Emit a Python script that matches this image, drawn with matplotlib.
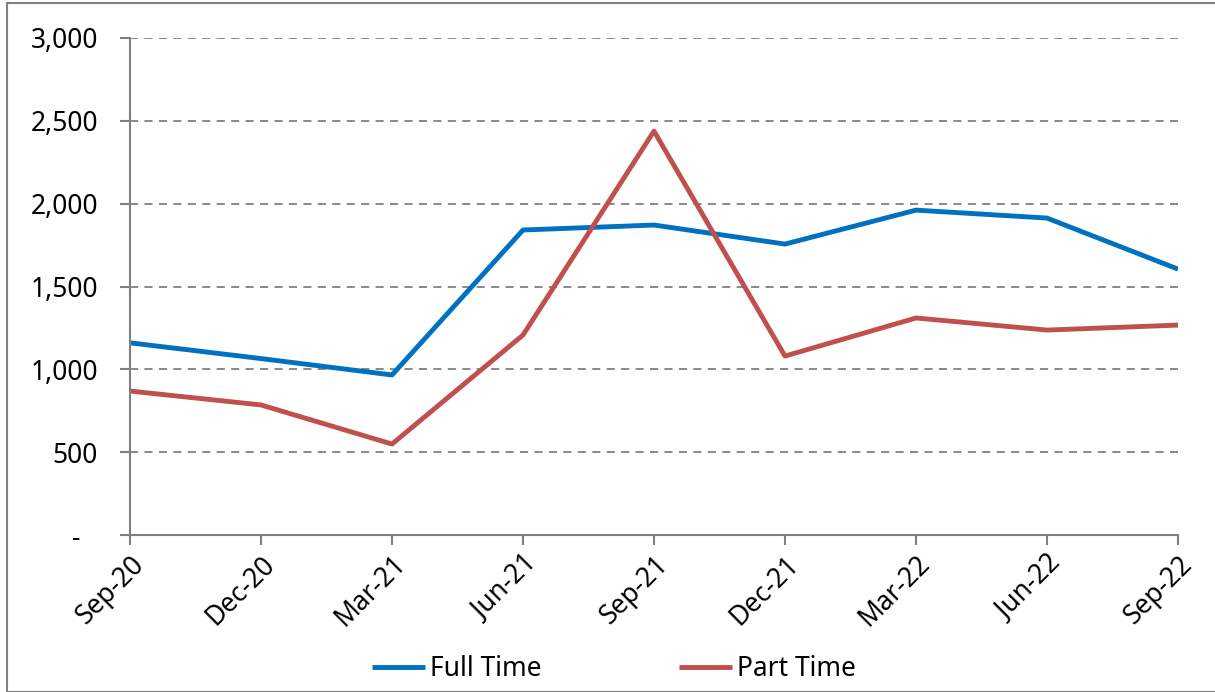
import matplotlib.pyplot as plt
import matplotlib.transforms as mtransforms
from matplotlib.patches import Rectangle

# Datos
periodos = ["Sep-20", "Dec-20", "Mar-21", "Jun-21", "Sep-21",
            "Dec-21", "Mar-22", "Jun-22", "Sep-22"]
full_time = [1160, 1065, 966, 1841, 1871, 1756, 1961, 1913, 1605]
part_time = [869, 785, 549, 1207, 2438, 1080, 1310, 1237, 1267]

y_ticks = [0, 500, 1000, 1500, 2000, 2500, 3000]
y_labels = ["-", "500", "1,000", "1,500", "2,000", "2,500", "3,000"]

plt.rcParams['font.family'] = ['Noto Sans', 'DejaVu Sans']

fig = plt.figure(figsize=(12.15, 6.92), dpi=100)
ax = fig.add_axes([130 / 1215, 1 - 535 / 692, 1048 / 1215, 497 / 692])

x = list(range(len(periodos)))
ax.plot(x, full_time, color='#0070C0', linewidth=3.5, label='Full Time',
        solid_capstyle='butt')
ax.plot(x, part_time, color='#C0504D', linewidth=3.5, label='Part Time',
        solid_capstyle='butt')

ax.set_xlim(0, len(periodos) - 1)
ax.set_ylim(0, 3000)
ax.set_yticks(y_ticks)
ax.set_yticklabels(y_labels, fontsize=19)
ax.set_xticks(x)
ax.set_xticklabels(periodos, fontsize=19, rotation=45, ha='right',
                   rotation_mode='anchor')

# Rejilla punteada solo horizontal
ax.grid(axis='y', color='#808080', linestyle=(0, (4.5, 3.5)), linewidth=1.3)
ax.set_axisbelow(True)

for lado in ['top', 'right']:
    ax.spines[lado].set_visible(False)
for lado in ['left', 'bottom']:
    ax.spines[lado].set_color('#808080')
    ax.spines[lado].set_linewidth(1.5)
ax.tick_params(axis='both', color='#808080', width=1.5, length=7, pad=4)
ax.tick_params(axis='y', pad=16)

# El guion del cero queda mas a la izquierda, como en formato contable
etiqueta_cero = ax.get_yticklabels()[0]
etiqueta_cero.set_transform(etiqueta_cero.get_transform() +
                            mtransforms.ScaledTranslation(-0.18, 0, fig.dpi_scale_trans))

fig.legend(loc='center', bbox_to_anchor=(614 / 1215, 1 - 669 / 692), ncol=2,
           frameon=False, fontsize=19, handlelength=2.0, handletextpad=0.2,
           columnspacing=5.2)

# Borde exterior del grafico
fig.patches.append(Rectangle((7 / 1215, 0), 1.0, 1 - 3 / 692,
                             transform=fig.transFigure, fill=False,
                             edgecolor='#808080', linewidth=1.5))

fig.savefig('out.png', dpi=100)
